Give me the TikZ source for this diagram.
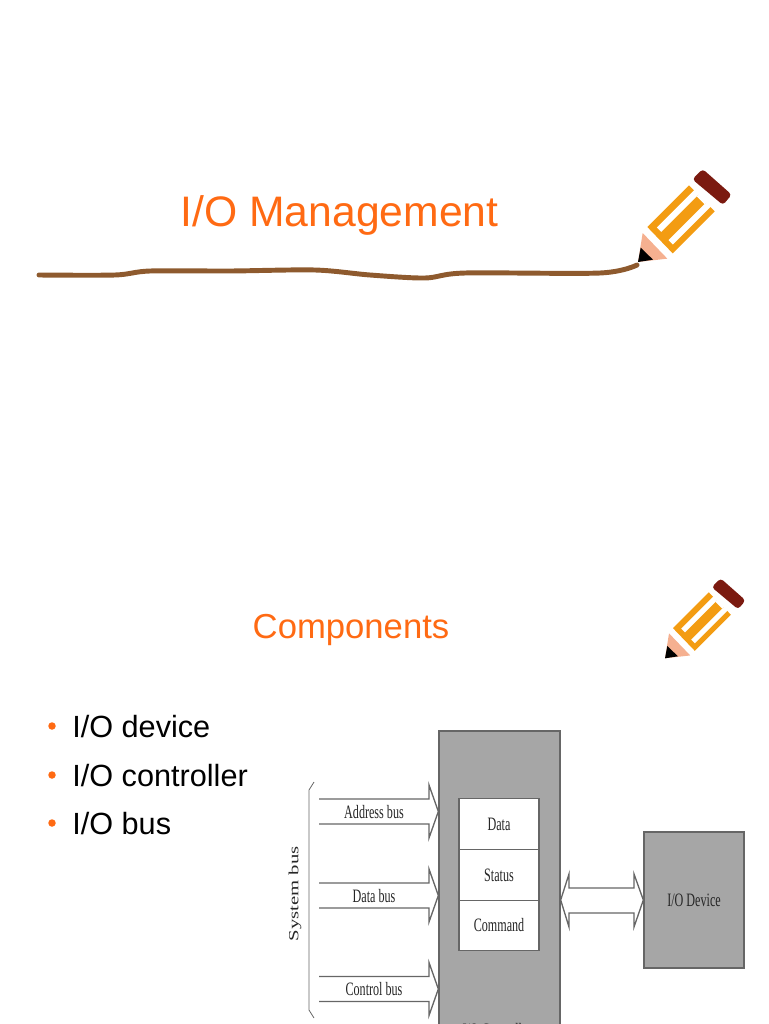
\documentclass[tikz,border=0pt]{standalone}
\usepackage{graphicx}
\usepackage{fontspec}
\setmainfont{Liberation Sans}
\newfontfamily\busfont{Liberation Serif}
\definecolor{titleorange}{HTML}{FF6A13}
\definecolor{pencilbody}{HTML}{F39C12}
\definecolor{pencilcap}{HTML}{7B1A10}
\definecolor{pencilwood}{HTML}{F5B090}
\definecolor{linebrown}{HTML}{8E5A2E}
\definecolor{boxgrey}{HTML}{A6A6A6}
\definecolor{boxline}{HTML}{666666}
\newcommand{\narrowtext}[1]{\scalebox{.64}[1]{#1}}
\newcommand{\drawpencil}[3]{%
    \begin{scope}[shift={(#1,#2)},scale=#3,shift={(8,-275)}]
        \fill[pencilwood] (6,188) -- (80,265) -- (-8,275) -- cycle;
        \fill[black] (0,232) -- (37,268) -- (-8,275) -- cycle;
        \fill[pencilbody] (20,170) -- (145,45) -- (222,123) -- (96,249) -- cycle;
        \fill[white] (48.5,171.5) -- (165,55) -- (178,68) -- (61.5,184.5) -- cycle;
        \fill[white] (83.5,209.5) -- (201.5,91.5) -- (214.5,104.5) -- (96.5,222.5) -- cycle;
        \fill[white] (168,78) -- (178,68) -- (201.5,91.5) -- (191.5,101.5) -- cycle;
        \fill[pencilcap, rounded corners=2.5pt] (155,27) -- (186,-4) -- (273,73) -- (247,104) -- cycle;
    \end{scope}}
\tikzset{
    titletext/.style={text=titleorange, anchor=base, font=\fontsize{32}{38}\selectfont},
    itemtext/.style={text=black, anchor=base west, inner sep=0pt, font=\fontsize{23}{28}\selectfont},
    itemdot/.style={circle, fill=titleorange, inner sep=0pt, minimum size=7.5pt*.75},
    greybox/.style={draw=boxline, fill=boxgrey, line width=1pt, inner sep=0pt},
    regbox/.style={draw=boxline, fill=white, line width=1pt, inner sep=0pt, minimum width=60pt, minimum height=37.8pt, text=black!85, font=\busfont\fontsize{14.2}{16}\selectfont},
    bustext/.style={text=black!85, font=\busfont\fontsize{14.2}{16}\selectfont, inner sep=0pt},
    busline/.style={draw=boxline, line width=1pt}
}
\begin{document}
\begin{tikzpicture}[x=.75pt,y=-.75pt]
    \useasboundingbox (0,0) rectangle (768,1024);
    % slide one
    \node[titletext] (title) at (339.5,226) {I/O Management};
    \draw[linebrown, line width=3.7pt, line cap=round] plot[smooth, tension=.5] coordinates {(39,275) (115,275) (150,271) (230,271) (315,270) (370,275) (425,278) (465,273) (600,273) (637,265)};
    \drawpencil{638}{262}{.3333}
    % slide two
    \node[titletext, font=\fontsize{26}{31}\selectfont] (subtitle) at (351,638) {Components};
    \drawpencil{665}{658.3}{.2867}
    \foreach \yb/\txt/\nm in {737/{I/O device}/dev, 786/{I/O controller}/ctl, 834/{I/O bus}/bus} {
        \node[itemtext] (item\nm) at (72,\yb) {\txt};
        \node[itemdot] (dot\nm) at (52,\yb-11) {};
    }
    % controller and device
    \node[greybox, minimum width=90.75pt, minimum height=227.25pt] (ctrl) at (499.5,882.5) {};
    \node[bustext] (ctrllabel) at (497,1030) {\narrowtext{I/O Controller}};
    \node[regbox] (regdata) at (499,824) {\narrowtext{Data}};
    \node[regbox] (regstatus) at (499,875) {\narrowtext{Status}};
    \node[regbox] (regcmd) at (499,925.5) {\narrowtext{Command}};
    \node[greybox, minimum width=75pt, minimum height=102pt] (iodev) at (694,900) {};
    \node[bustext] (iolabel) at (694,900) {\narrowtext{I/O Device}};
    % bus arrows
    \foreach \ya/\txt/\nm in {811.5/Address bus/addr, 895.5/Data bus/data, 989/Control bus/cont} {
        \coordinate (tip\nm) at (ctrl.west |- 0,\ya);
        \draw[busline] (319,\ya-12.5) -- (429,\ya-12.5) -- (429,\ya-26.5) -- (tip\nm) -- (429,\ya+26.5) -- (429,\ya+12.5) -- (319,\ya+12.5);
        \node[bustext] (lab\nm) at (374,\ya+.5) {\narrowtext{\txt}};
    }
    % double arrow to the device
    \coordinate (tipctrl) at (ctrl.east |- iodev.west);
    \draw[busline] (569,888) -- (634,888) -- (634,874) -- (iodev.west) -- (634,927) -- (634,913) -- (569,913) -- (569,927) -- (tipctrl) -- (569,874) -- cycle;
    % system bus brace
    \draw[draw=boxline, line width=.6pt] (314,782) -- (309,790) -- (309,1010) -- (314,1018);
    \node[bustext, rotate=90, font=\busfont\fontsize{10.5}{12}\selectfont] (sysbus) at (295,894) {\scalebox{1.48}[1]{System bus}};
\end{tikzpicture}
\end{document}
